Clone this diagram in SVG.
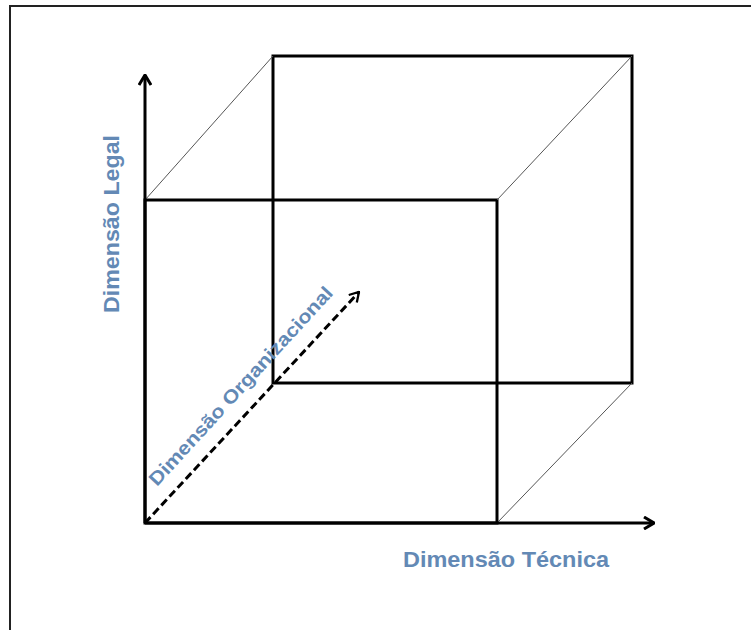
<svg xmlns="http://www.w3.org/2000/svg" width="751" height="630" viewBox="0 0 751 630">
  <style>
    .thick { fill: none; stroke: #000; stroke-width: 3; }
    .thin { fill: none; stroke: #555; stroke-width: 1; }
    .lbl { font-family: "Liberation Sans", Arial, sans-serif; font-weight: bold; fill: #6389b5; }
  </style>
  <defs>
    <marker id="arr" viewBox="0 0 12 14" refX="11" refY="7" markerWidth="12" markerHeight="14" markerUnits="userSpaceOnUse" orient="auto">
      <path d="M1,1 L11,7 L1,13" fill="none" stroke="#000" stroke-width="3" stroke-linejoin="miter"/>
    </marker>
    <marker id="arrd" viewBox="0 0 12 14" refX="11" refY="7" markerWidth="11" markerHeight="13" markerUnits="userSpaceOnUse" orient="auto">
      <path d="M1,1 L11,7 L1,13" fill="none" stroke="#000" stroke-width="2.5"/>
    </marker>
  </defs>
  <rect width="751" height="630" fill="#fff"/>
  <g id="frame">
    <path d="M10,631 L10,6 L752,6" fill="none" stroke="#222" stroke-width="2"/>
  </g>
  <g id="back-face">
    <rect class="thick" x="273" y="56" width="359" height="327"/>
  </g>
  <g id="front-face">
    <rect class="thick" x="145" y="200" width="352" height="323"/>
  </g>
  <g id="connectors">
    <line class="thin" x1="145" y1="200" x2="273" y2="56"/>
    <line class="thin" x1="497" y1="200" x2="632" y2="56"/>
    <line class="thin" x1="497" y1="523" x2="632" y2="383"/>
    <line class="thick" x1="145" y1="523" x2="145" y2="75" marker-end="url(#arr)"/>
    <line class="thick" x1="145" y1="523" x2="654" y2="523" marker-end="url(#arr)"/>
    <line x1="145" y1="523" x2="359" y2="292" stroke="#000" stroke-width="3" stroke-dasharray="8,4" marker-end="url(#arrd)"/>
  </g>
  <g id="labels">
    <text class="lbl" font-size="22" transform="translate(119,313) rotate(-90)" textLength="178" lengthAdjust="spacingAndGlyphs">Dimensão Legal</text>
    <text class="lbl" font-size="22" x="403" y="567" textLength="206" lengthAdjust="spacingAndGlyphs">Dimensão Técnica</text>
    <text class="lbl" font-size="19" transform="translate(157,487) rotate(-47.5)" textLength="262" lengthAdjust="spacingAndGlyphs">Dimensão Organizacional</text>
  </g>
</svg>
